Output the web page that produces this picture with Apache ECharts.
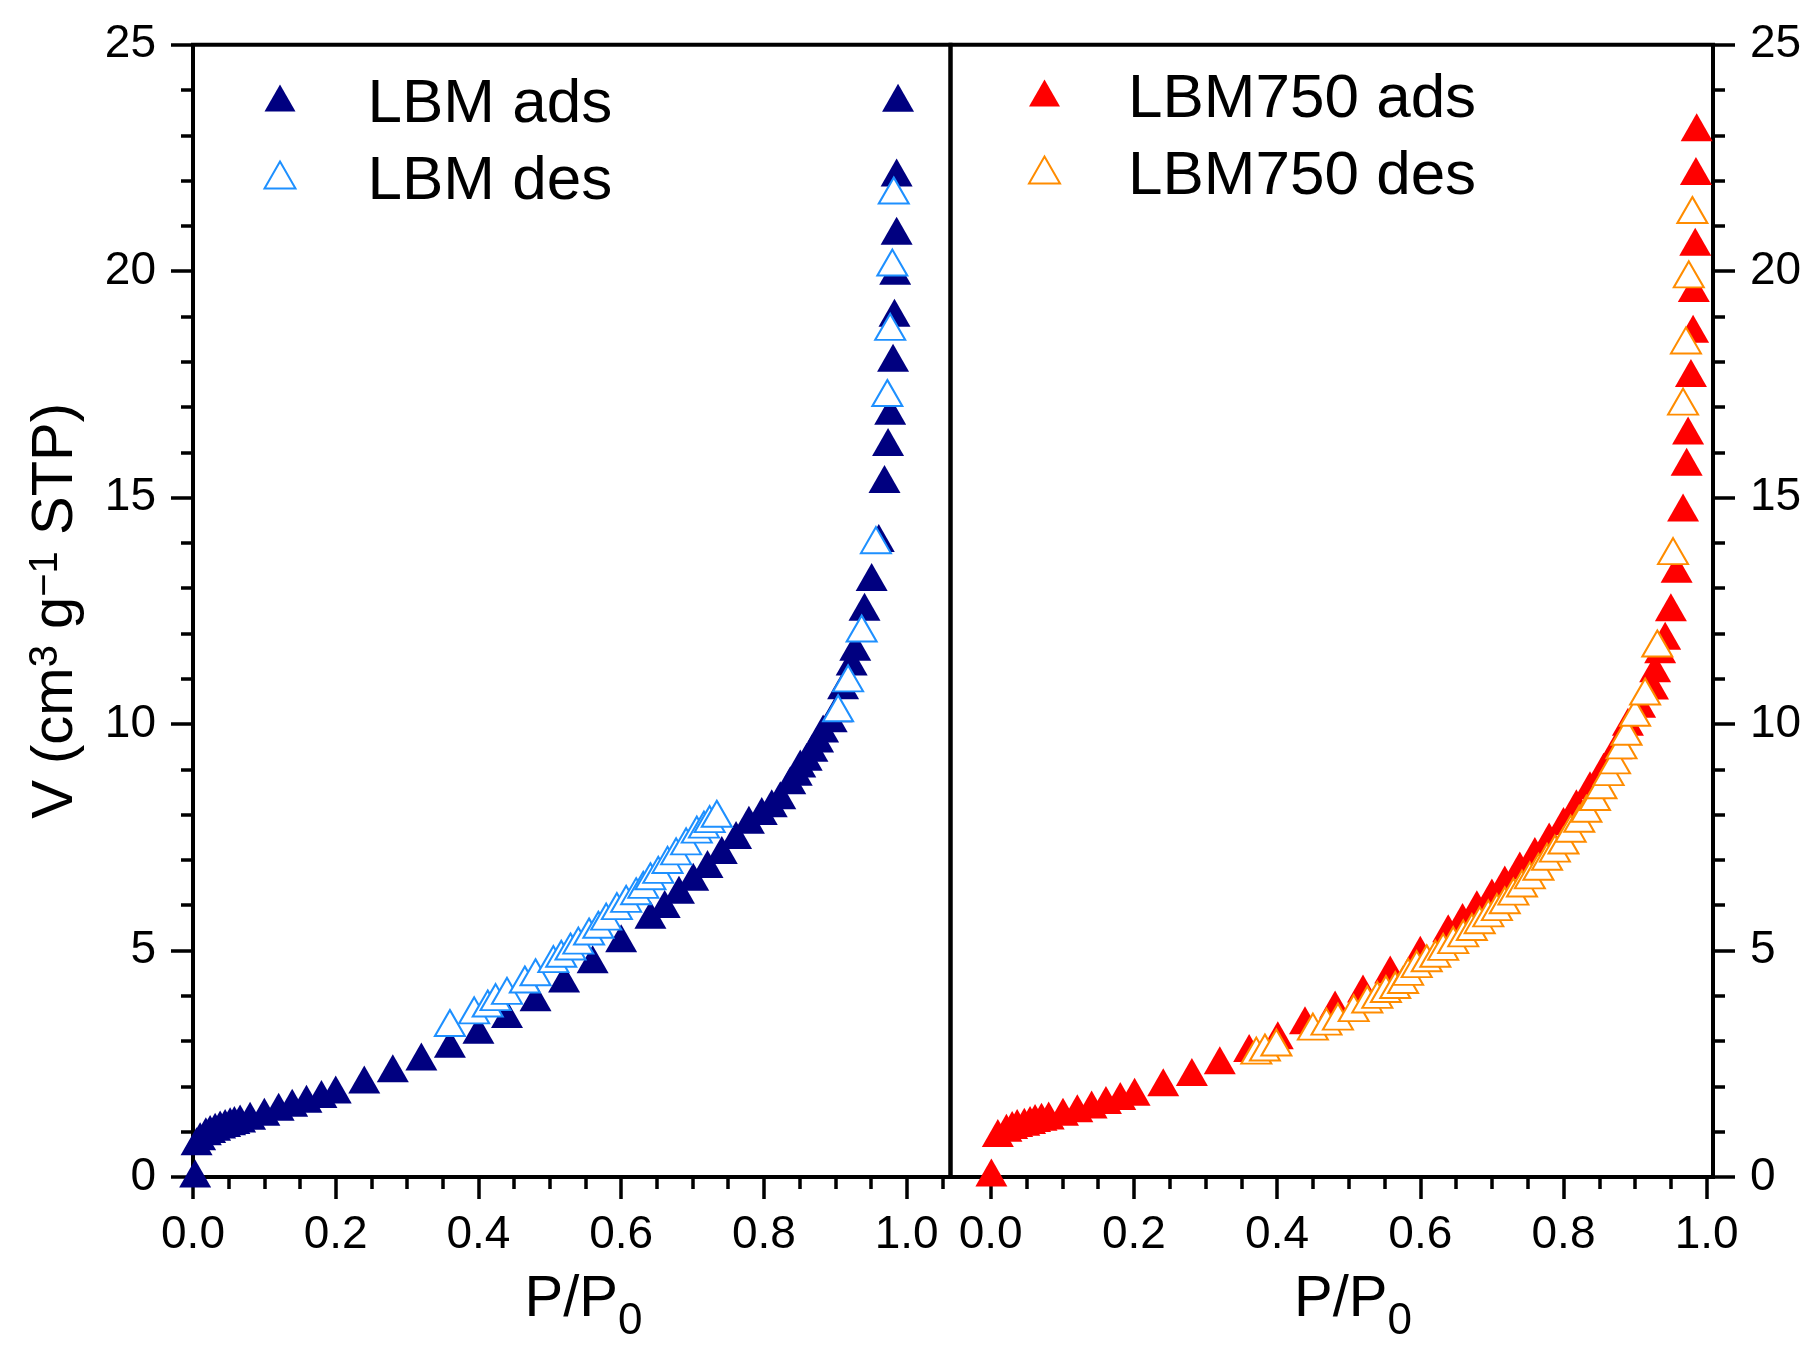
<!DOCTYPE html>
<html>
<head>
<meta charset="utf-8">
<script src="https://cdn.jsdelivr.net/npm/echarts@6/dist/echarts.min.js"></script>
<style>
  html, body { margin: 0; padding: 0; background: #fff; }
  #chart { width: 1818px; height: 1358px; }
</style>
</head>
<body>
<div id="chart"></div>
<script>
// ---------------- data ----------------
const LBM_ADS_X = [0.003,0.005,0.010,0.018,0.024,0.031,0.038,0.045,0.052,0.058,0.066,0.080,0.100,0.120,0.139,0.159,0.180,0.200,0.240,0.280,0.320,0.360,0.400,0.440,0.480,0.520,0.560,0.600,0.641,0.661,0.681,0.701,0.721,0.741,0.761,0.779,0.797,0.811,0.823,0.837,0.846,0.851,0.860,0.868,0.876,0.883,0.895,0.902,0.911,0.923,0.928,0.941,0.951,0.961,0.969,0.974,0.977,0.981,0.983,0.984,0.986,0.986,0.988];
const LBM_ADS_Y = [0.08,0.79,0.90,1.01,1.06,1.11,1.16,1.19,1.23,1.26,1.29,1.35,1.44,1.55,1.64,1.73,1.83,1.93,2.15,2.40,2.66,2.94,3.25,3.60,3.97,4.38,4.81,5.27,5.79,6.03,6.34,6.63,6.91,7.22,7.55,7.89,8.08,8.25,8.43,8.76,8.95,9.13,9.28,9.48,9.68,9.90,10.13,10.35,10.86,11.38,11.71,12.59,13.25,14.11,15.41,16.23,16.92,18.09,19.08,20.01,20.89,22.18,23.83];

const LBM_DES_X = [0.360,0.394,0.413,0.424,0.440,0.465,0.480,0.505,0.516,0.529,0.540,0.555,0.568,0.579,0.594,0.607,0.621,0.631,0.641,0.652,0.665,0.677,0.691,0.706,0.716,0.724,0.734,0.904,0.918,0.937,0.957,0.973,0.977,0.980,0.982];
const LBM_DES_Y = [3.40,3.68,3.83,3.97,4.11,4.36,4.52,4.81,4.93,5.09,5.22,5.42,5.57,5.75,5.98,6.14,6.31,6.45,6.64,6.78,7.00,7.19,7.41,7.67,7.78,7.90,8.02,10.35,11.01,12.11,14.06,17.31,18.77,20.19,21.78];

const LBM750_ADS_X = [0.001,0.010,0.022,0.030,0.037,0.047,0.055,0.062,0.071,0.081,0.101,0.121,0.141,0.161,0.181,0.201,0.241,0.281,0.320,0.361,0.401,0.439,0.481,0.520,0.558,0.600,0.639,0.659,0.679,0.700,0.718,0.739,0.760,0.780,0.800,0.818,0.837,0.856,0.874,0.890,0.907,0.925,0.928,0.935,0.942,0.950,0.958,0.967,0.972,0.974,0.978,0.981,0.982,0.984,0.985,0.986];
const LBM750_ADS_Y = [0.10,0.97,1.09,1.15,1.19,1.22,1.26,1.30,1.33,1.36,1.44,1.52,1.60,1.70,1.79,1.88,2.09,2.32,2.58,2.85,3.13,3.46,3.81,4.16,4.58,5.02,5.49,5.74,6.02,6.28,6.57,6.88,7.20,7.52,7.86,8.25,8.65,9.06,9.53,10.05,10.45,10.85,11.23,11.65,11.95,12.58,13.43,14.78,15.79,16.48,17.75,18.73,19.63,20.65,22.21,23.18];

const LBM750_DES_X = [0.371,0.383,0.399,0.450,0.469,0.485,0.507,0.526,0.540,0.552,0.565,0.576,0.583,0.595,0.609,0.621,0.632,0.646,0.660,0.672,0.683,0.695,0.707,0.718,0.730,0.742,0.753,0.765,0.777,0.788,0.800,0.810,0.822,0.832,0.844,0.853,0.863,0.872,0.881,0.888,0.900,0.914,0.931,0.953,0.967,0.971,0.975,0.980];
const LBM750_DES_Y = [2.79,2.86,2.97,3.32,3.43,3.54,3.73,3.92,4.02,4.15,4.24,4.35,4.53,4.70,4.83,4.93,5.08,5.23,5.38,5.52,5.67,5.82,5.96,6.11,6.30,6.48,6.66,6.85,7.07,7.25,7.43,7.69,7.91,8.13,8.39,8.65,8.94,9.20,9.53,9.83,10.25,10.72,11.78,13.82,17.12,18.47,19.93,21.35];

// axis ranges and ticks
const LEFT_X_RANGE = [0, 1.0615];
const RIGHT_X_RANGE = [-0.0561, 1.0088];
const Y_RANGE = [0, 25];
const X_MAJOR_TICKS = [0, 0.2, 0.4, 0.6, 0.8, 1.0];
const X_MINOR_TICKS_LEFT = [0.05,0.1,0.15,0.25,0.3,0.35,0.45,0.5,0.55,0.65,0.7,0.75,0.85,0.9,0.95,1.05];
const X_MINOR_TICKS_RIGHT = [0.05,0.1,0.15,0.25,0.3,0.35,0.45,0.5,0.55,0.65,0.7,0.75,0.85,0.9,0.95];
const SERIES_NAMES = ['LBM ads', 'LBM des', 'LBM750 ads', 'LBM750 des'];

// ---------------- chart ----------------
const zip = (xs, ys) => xs.map((x, i) => [x, ys[i]]);
const FONT = 'Liberation Sans, Arial, Helvetica, sans-serif';
const BLACK = '#000';

const grids = [
  { left: 193, top: 44.7, width: 757.5, height: 1132.3, show: true, borderColor: BLACK, borderWidth: 4, backgroundColor: 'transparent', containLabel: false },
  { left: 950.5, top: 44.7, width: 762.5, height: 1132.3, show: true, borderColor: BLACK, borderWidth: 4, backgroundColor: 'transparent', containLabel: false }
];

const xTitle = (pad) => ({
  name: '{m|P/P}{s|0}',
  nameLocation: 'middle',
  nameGap: 94,
  nameTextStyle: {
    fontFamily: FONT, color: BLACK, padding: [0, 0, 0, pad],
    rich: {
      m: { fontFamily: FONT, fontSize: 58, lineHeight: 58, verticalAlign: 'top', color: BLACK },
      s: { fontFamily: FONT, fontSize: 44, lineHeight: 73, verticalAlign: 'bottom', color: BLACK }
    }
  }
});

function majorX(gridIndex, range, pad) {
  return Object.assign({
    type: 'value', gridIndex, min: range[0], max: range[1], position: 'bottom',
    axisLine: { show: false, onZero: false },
    axisTick: { show: true, length: 22, customValues: X_MAJOR_TICKS, lineStyle: { color: BLACK, width: 3.5 } },
    axisLabel: { show: true, customValues: X_MAJOR_TICKS, formatter: v => v.toFixed(1), fontFamily: FONT, fontSize: 46, color: BLACK, margin: 35 },
    splitLine: { show: false }
  }, xTitle(pad));
}
function minorX(gridIndex, range, ticks) {
  return {
    type: 'value', gridIndex, min: range[0], max: range[1], position: 'top', offset: -1132.3,
    axisLine: { show: false, onZero: false },
    axisTick: { show: true, inside: true, length: 12, customValues: ticks, lineStyle: { color: BLACK, width: 3.5 } },
    axisLabel: { show: false },
    splitLine: { show: false }
  };
}
function yAx(gridIndex, position) {
  const ax = {
    type: 'value', gridIndex, min: Y_RANGE[0], max: Y_RANGE[1], interval: 5, position,
    axisLine: { show: false, onZero: false },
    axisTick: { show: true, length: 22, lineStyle: { color: BLACK, width: 3.5 } },
    minorTick: { show: true, splitNumber: 5, length: 12, lineStyle: { color: BLACK, width: 3.5 } },
    axisLabel: { fontFamily: FONT, fontSize: 46, color: BLACK, margin: 37 },
    splitLine: { show: false },
    minorSplitLine: { show: false }
  };
  if (position === 'left') {
    Object.assign(ax, {
      name: '{m|V (cm}{p|3}{m| g}{p|\u22121}{m| STP)}',
      nameLocation: 'middle',
      nameRotate: 90,
      nameGap: 108,
      nameTextStyle: {
        fontFamily: FONT, color: BLACK,
        rich: {
          m: { fontFamily: FONT, fontSize: 58, lineHeight: 58, verticalAlign: 'bottom', color: BLACK },
          p: { fontFamily: FONT, fontSize: 40, lineHeight: 59, verticalAlign: 'top', color: BLACK }
        }
      }
    });
  }
  return ax;
}

// legends: one legend draws the symbols, a second one (with hidden symbols) draws the labels
const legendCommon = {
  orient: 'vertical', padding: 0, itemWidth: 31, itemHeight: 27, itemGap: 15,
  icon: 'triangle', selectedMode: false
};
const legendText = (padLeft) => ({ fontFamily: FONT, fontSize: 62, color: BLACK, padding: [0, 0, 0, padLeft] });
const legendSymbols = (names, left, top, padLeft) => Object.assign({}, legendCommon, {
  data: names, left, top, textStyle: Object.assign(legendText(padLeft), { color: 'rgba(0,0,0,0)' })
});
const legendLabels = (names, left, top, padLeft) => Object.assign({}, legendCommon, {
  data: names, left, top, textStyle: legendText(padLeft), itemStyle: { opacity: 0 }
});

const FILLED = { symbol: 'triangle', symbolSize: [32, 28] };
const OPEN = { symbol: 'triangle', symbolSize: [30, 26] };

const option = {
  animation: false,
  backgroundColor: '#fff',
  grid: grids,
  xAxis: [
    majorX(0, LEFT_X_RANGE, 23.5),
    minorX(0, LEFT_X_RANGE, X_MINOR_TICKS_LEFT),
    majorX(1, RIGHT_X_RANGE, 42.5),
    minorX(1, RIGHT_X_RANGE, X_MINOR_TICKS_RIGHT)
  ],
  yAxis: [ yAx(0, 'left'), yAx(1, 'right') ],
  legend: [
    legendSymbols([SERIES_NAMES[0], SERIES_NAMES[1]], 263.5, 67, 67),
    legendLabels([SERIES_NAMES[0], SERIES_NAMES[1]], 263.5, 73.5, 67),
    legendSymbols([SERIES_NAMES[2], SERIES_NAMES[3]], 1028, 62, 63),
    legendLabels([SERIES_NAMES[2], SERIES_NAMES[3]], 1028, 68.5, 63)
  ],
  series: [
    Object.assign({ type: 'scatter', name: SERIES_NAMES[0], xAxisIndex: 0, yAxisIndex: 0,
      data: zip(LBM_ADS_X, LBM_ADS_Y), itemStyle: { color: '#000080', opacity: 1 },
      emphasis: { disabled: true }, z: 2 }, FILLED),
    Object.assign({ type: 'scatter', name: SERIES_NAMES[1], xAxisIndex: 0, yAxisIndex: 0,
      data: zip(LBM_DES_X, LBM_DES_Y), itemStyle: { color: '#ffffff', borderColor: '#1E90FF', borderWidth: 2, opacity: 1 },
      emphasis: { disabled: true }, z: 3 }, OPEN),
    Object.assign({ type: 'scatter', name: SERIES_NAMES[2], xAxisIndex: 2, yAxisIndex: 1,
      data: zip(LBM750_ADS_X, LBM750_ADS_Y), itemStyle: { color: '#FF0000', opacity: 1 },
      emphasis: { disabled: true }, z: 2 }, FILLED),
    Object.assign({ type: 'scatter', name: SERIES_NAMES[3], xAxisIndex: 2, yAxisIndex: 1,
      data: zip(LBM750_DES_X, LBM750_DES_Y), itemStyle: { color: '#ffffff', borderColor: '#FF8C00', borderWidth: 2, opacity: 1 },
      emphasis: { disabled: true }, z: 3 }, OPEN)
  ]
};

const chart = echarts.init(document.getElementById('chart'), null, { renderer: 'canvas', width: 1818, height: 1358 });
chart.setOption(option);
</script>
</body>
</html>
